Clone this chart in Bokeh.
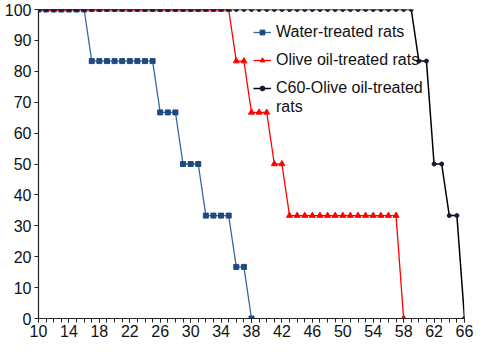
from bokeh.plotting import figure
from bokeh.models import Range1d, FixedTicker, Legend, LegendItem
from bokeh.embed import file_html
from bokeh.resources import INLINE

water_days = [10, 11, 12, 13, 14, 15, 16, 17, 18, 19, 20, 21, 22, 23, 24, 25,
              26, 27, 28, 29, 30, 31, 32, 33, 34, 35, 36, 37, 38]
water_vals = [100, 100, 100, 100, 100, 100, 100,
              83.3, 83.3, 83.3, 83.3, 83.3, 83.3, 83.3, 83.3, 83.3,
              66.7, 66.7, 66.7, 50, 50, 50, 33.3, 33.3, 33.3, 33.3,
              16.7, 16.7, 0]

olive_days = [10, 11, 12, 13, 14, 15, 16, 17, 18, 19, 20, 21, 22, 23, 24, 25,
              26, 27, 28, 29, 30, 31, 32, 33, 34, 35, 36, 37, 38, 39, 40, 41,
              42, 43, 44, 45, 46, 47, 48, 49, 50, 51, 52, 53, 54, 55, 56, 57, 58]
olive_vals = [100, 100, 100, 100, 100, 100, 100, 100, 100, 100, 100, 100, 100,
              100, 100, 100, 100, 100, 100, 100, 100, 100, 100, 100, 100, 100,
              83.3, 83.3, 66.7, 66.7, 66.7, 50, 50,
              33.3, 33.3, 33.3, 33.3, 33.3, 33.3, 33.3, 33.3, 33.3, 33.3, 33.3,
              33.3, 33.3, 33.3, 33.3, 0]

c60_days = [10, 11, 12, 13, 14, 15, 16, 17, 18, 19, 20, 21, 22, 23, 24, 25,
            26, 27, 28, 29, 30, 31, 32, 33, 34, 35, 36, 37, 38, 39, 40, 41,
            42, 43, 44, 45, 46, 47, 48, 49, 50, 51, 52, 53, 54, 55, 56, 57,
            58, 59, 60, 61, 62, 63, 64, 65, 66]
c60_vals = [100, 100, 100, 100, 100, 100, 100, 100, 100, 100, 100, 100, 100,
            100, 100, 100, 100, 100, 100, 100, 100, 100, 100, 100, 100, 100,
            100, 100, 100, 100, 100, 100, 100, 100, 100, 100, 100, 100, 100,
            100, 100, 100, 100, 100, 100, 100, 100, 100, 100, 100,
            83.3, 83.3, 50, 50, 33.3, 33.3, 0]

x_major = [10, 14, 18, 22, 26, 30, 34, 38, 42, 46, 50, 54, 58, 62, 66]
y_major = [0, 10, 20, 30, 40, 50, 60, 70, 80, 90, 100]

FONT = "Liberation Sans"

p = figure(width=474, height=340, output_backend="svg", toolbar_location=None,
           x_range=Range1d(10, 66), y_range=Range1d(0, 100),
           min_border_left=38, min_border_right=10, min_border_top=9,
           min_border_bottom=22)
p.outline_line_color = None
p.grid.visible = False
p.background_fill_color = "white"

for ax in (p.xaxis[0], p.yaxis[0]):
    ax.axis_line_color = "#222222"
    ax.axis_line_width = 1.2
    ax.major_tick_line_color = "#222222"
    ax.minor_tick_line_color = "#222222"
    ax.major_tick_in = 0
    ax.major_tick_out = 4
    ax.minor_tick_in = 0
    ax.major_label_text_font = FONT
    ax.major_label_text_font_size = "16px"
    ax.major_label_text_color = "#111111"

p.xaxis[0].ticker = FixedTicker(ticks=x_major, minor_ticks=c60_days)
p.xaxis[0].minor_tick_out = 4
p.xaxis[0].major_label_standoff = 2
p.yaxis[0].ticker = FixedTicker(ticks=y_major, minor_ticks=[])
p.yaxis[0].minor_tick_out = 0
p.yaxis[0].major_label_standoff = 3

wl = p.line(water_days, water_vals, line_color="#3566A8", line_width=1.3)
wm = p.scatter(water_days, water_vals, marker="square", size=5,
               fill_color="#1F4A80", line_color="#1F4A80")

ol = p.line(olive_days, olive_vals, line_color="#FF0000", line_width=1.3)
om = p.scatter(olive_days, olive_vals, marker="triangle", size=6,
               fill_color="#FF0000", line_color="#FF0000")

cl = p.line(c60_days, c60_vals, line_color="#000000", line_width=1.5)
cm = p.scatter(c60_days, c60_vals, marker="circle", size=4,
               fill_color="#1A1A33", line_color="#1A1A33")

# invisible placeholder for the wrapped second line of the last legend label
blank = p.line([], [], line_alpha=0)


def style(lg):
    lg.label_text_font = FONT
    lg.label_text_font_size = "16px"
    lg.label_text_color = "#111111"
    lg.background_fill_alpha = 0
    lg.border_line_alpha = 0
    lg.glyph_width = 18
    lg.glyph_height = 12
    lg.label_height = 20
    lg.label_standoff = 5
    lg.spacing = 8
    lg.padding = 0
    lg.margin = 0


legend = Legend(items=[
    LegendItem(label="Water-treated rats", renderers=[wl, wm]),
    LegendItem(label="Olive oil-treated rats", renderers=[ol, om]),
    LegendItem(label="C60-Olive oil-treated", renderers=[cl, cm]),
], location=(215, 220))
style(legend)
p.add_layout(legend)

legend2 = Legend(items=[LegendItem(label="rats", renderers=[blank])],
                 location=(215, 201))
style(legend2)
p.add_layout(legend2)

open("out.html", "w").write(file_html(p, INLINE))
